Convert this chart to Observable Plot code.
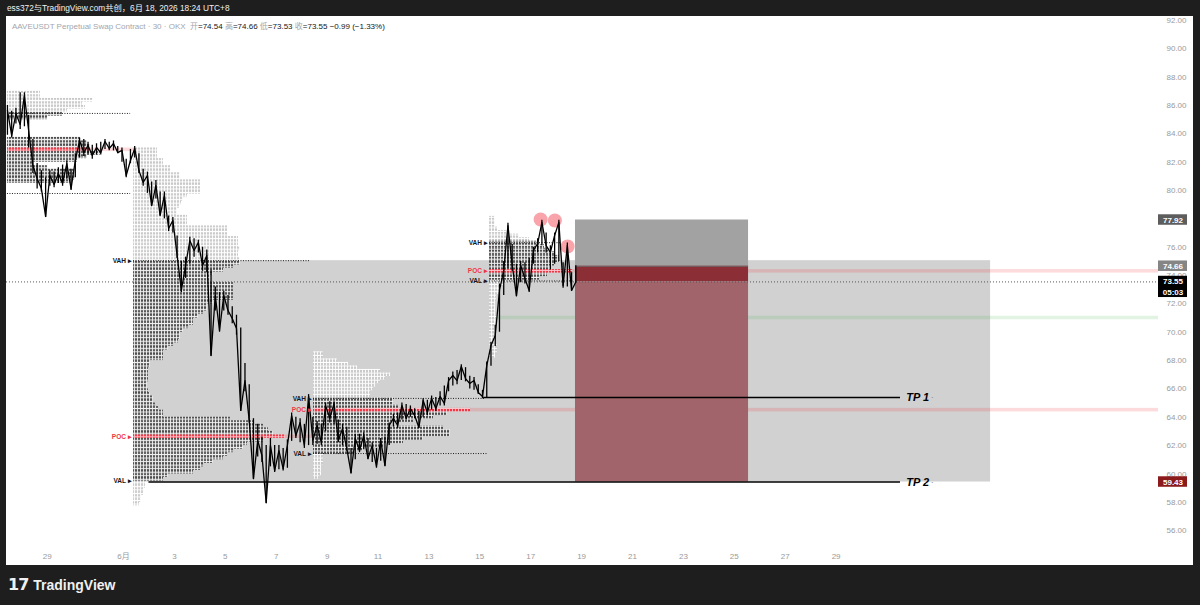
<!DOCTYPE html>
<html><head><meta charset="utf-8">
<script src="https://cdn.jsdelivr.net/npm/d3@7"></script>
<script src="https://cdn.jsdelivr.net/npm/@observablehq/plot@0.6"></script>
<style>
body{margin:0;background:#1e1e1e;width:1200px;height:605px;overflow:hidden;position:relative;font-family:"Liberation Sans","Noto Sans CJK SC",sans-serif}
#hdr{position:absolute;left:7px;top:2px;color:#f2f2f2;font-size:8.3px;line-height:13px;font-weight:normal;font-family:"Liberation Sans","Noto Sans CJK SC",sans-serif}
#chart{position:absolute;left:6px;top:16px;width:1187px;height:549px;background:#fff;overflow:hidden}
#legend{position:absolute;left:6px;top:5px;font-size:8px;line-height:12px;color:#131722;white-space:pre;font-family:"Liberation Sans","Noto Sans CJK SC",sans-serif}
#legend .g{color:#a3a6ae}
#logo{position:absolute;left:8px;top:575px;color:#f0f0f0;font-size:14px;font-weight:bold;line-height:20px;font-family:"Liberation Sans",sans-serif}
#logo .ic{font-weight:900;letter-spacing:-1px;margin-right:5px;font-size:16px;font-family:"DejaVu Sans",sans-serif}
svg{position:absolute;left:0;top:0}
</style></head><body>
<div id="hdr">ess372与TradingView.com共创，6月 18, 2026 18:24 UTC+8</div>
<div id="chart"><div id="legend"><span class="g">AAVEUSDT Perpetual Swap Contract · 30 · OKX  开</span>=74.54 <span class="g">高</span>=74.66 <span class="g">低</span>=73.53 <span class="g">收</span>=73.55 −0.99 (−1.33%)</div></div>
<div id="logo"><span class="ic">17</span>TradingView</div>
<script>
// ---------- time axis (day numbers, June 1 = 1, May 29 = -2) ----------
const tickDays = [-2, 1, 3, 5, 7, 9, 11, 13, 15, 17, 19, 21, 23, 25, 27, 29];
const tickLabels = ["29", "6月", "3", "5", "7", "9", "11", "13", "15", "17", "19", "21", "23", "25", "27", "29"];
const priceTicks = [56, 58, 60, 62, 64, 66, 68, 70, 72, 74, 76, 80, 82, 84, 86, 88, 90, 92];

// ---------- price series (4-hour samples) ----------
const priceStartDay = -3.56;
const priceStepDays = 1 / 6;
const closes = [
  85.65, 83.88, 85.43, 84.66, 86.7, 84.24, 81.77, 80.85, 80.14, 78.17,
  81.06, 80.43, 81.2, 80.5, 81.9, 80.14, 82.12, 83.53, 82.68, 83.18,
  82.47, 83.04, 82.68, 83.46, 82.97, 83.32, 82.68, 82.83, 81.06, 82.12,
  82.97, 81.41, 80.57, 81.06, 78.94, 80.36, 78.24, 79.65, 77.32, 77.89,
  75.42, 72.95, 74.71, 76.47, 75.77, 76.33, 74.71, 75.42, 68.36, 72.59,
  70.12, 72.59, 71.53, 70.97, 70.27, 64.48, 66.59, 63.77, 59.68, 62.36,
  61.3, 57.98, 62.01, 60.24, 61.65, 60.38, 62.01, 64.12, 62.71, 63.63,
  62.01, 65.47, 62.36, 63.42, 62.22, 64.83, 63.92, 64.97, 62.36, 63.2,
  61.8, 60.1, 62.5, 61.65, 62.71, 61.1, 62.0, 60.53, 62.36, 60.6,
  63.42, 63.92, 63.42, 64.83, 63.92, 64.62, 64.12, 63.28, 65.18, 64.33,
  65.33, 64.62, 65.47, 64.97, 66.59, 66.95, 66.59, 67.58, 66.73, 66.38,
  66.59, 65.75, 65.47, 67.65, 69.07, 69.77, 72.95, 74.36, 77.53, 74.71,
  72.59, 74.71, 73.79, 72.95, 75.77, 76.26, 77.75, 76.12, 75.63, 76.83,
  77.75, 73.3, 76.12, 72.95, 73.55
];
const highs = [
  86.0, 85.6, 85.8, 86.9, 86.9, 85.3, 83.6, 81.9, 81.4, 80.9,
  81.4, 81.3, 81.6, 81.8, 82.1, 81.5, 82.6, 83.7, 83.6, 83.4,
  83.2, 83.3, 83.4, 83.6, 83.4, 83.5, 83.1, 83.0, 82.2, 82.9,
  83.1, 82.6, 81.5, 81.3, 80.6, 80.7, 79.9, 79.9, 78.2, 78.1,
  76.8, 75.0, 75.3, 76.7, 76.6, 76.5, 76.0, 75.8, 74.4, 73.2,
  72.8, 72.9, 72.6, 71.8, 71.2, 70.3, 67.8, 66.3, 63.9, 63.5,
  62.6, 62.0, 62.5, 62.0, 62.0, 61.8, 62.4, 64.3, 64.0, 63.9,
  63.5, 65.6, 64.0, 63.7, 63.5, 65.0, 65.1, 65.1, 63.8, 63.5,
  63.3, 61.8, 62.8, 62.8, 62.9, 62.5, 62.2, 61.8, 62.5, 62.6,
  63.6, 64.2, 64.3, 65.0, 64.9, 64.8, 64.6, 64.4, 65.3, 65.2,
  65.5, 65.4, 65.8, 66.2, 66.8, 67.2, 67.3, 67.7, 67.5, 66.9,
  66.8, 66.3, 65.9, 67.9, 69.3, 70.5, 73.4, 75.0, 77.7, 76.2,
  74.8, 75.0, 74.9, 75.2, 76.0, 76.6, 77.9, 77.0, 76.1, 77.0,
  77.9, 74.9, 76.3, 74.2, 74.7
];
const lows = [
  83.9, 83.7, 84.7, 84.3, 84.5, 83.0, 81.2, 80.1, 79.9, 78.1,
  80.3, 80.2, 80.5, 80.3, 80.8, 80.0, 80.9, 82.3, 82.4, 82.5,
  82.2, 82.5, 82.5, 82.9, 82.8, 82.8, 82.6, 82.0, 80.9, 81.9,
  82.3, 81.2, 80.3, 79.8, 78.9, 79.4, 78.2, 78.0, 77.1, 77.0,
  75.2, 72.8, 73.8, 74.8, 75.3, 75.6, 74.3, 74.2, 68.3, 71.5,
  70.0, 71.5, 71.2, 70.6, 69.8, 64.4, 65.8, 63.6, 59.6, 61.2,
  60.8, 57.9, 60.5, 60.1, 60.3, 60.2, 60.4, 62.3, 62.5, 62.2,
  61.8, 62.0, 62.0, 62.1, 62.0, 63.0, 63.6, 63.5, 62.2, 62.0,
  61.6, 60.0, 61.0, 61.5, 61.7, 61.0, 60.8, 60.4, 60.9, 60.5,
  62.0, 63.3, 63.2, 63.8, 63.8, 64.0, 63.9, 63.2, 64.0, 64.1,
  64.5, 64.4, 64.8, 64.8, 65.8, 66.2, 66.3, 66.6, 66.5, 66.0,
  65.9, 65.6, 65.3, 65.4, 67.6, 69.0, 70.0, 72.6, 74.5, 74.3,
  72.5, 73.5, 73.4, 72.8, 74.8, 75.6, 76.1, 75.6, 74.4, 74.8,
  75.0, 73.1, 73.2, 72.9, 73.5
];

// ---------- session volume profiles (bins of 0.25, top row first) ----------
const binSize = 0.25;
const volPerDay = 50.9;
const profAStart = -3.56, profATop = 86.875, profAVah = 85.44, profAVal = 79.79, profAPoc = 82.875;
const profAVolumes = [66,66,172,150,156,120,110,80,0,0,0,0,0,146,160,166,166,186,160,140,52,80,136,136,136,126];
const profBStart = 1.393, profBTop = 82.875, profBVah = 75.05, profBVal = 59.5, profBPoc = 62.625;
const profBVolumes = [
  48,48,48,60, 60,74,74,94, 94,134,134,134, 134,108,100,96, 92,88,88,108, 108,108,188,188, 188,210,210,210, 214,210,210,214,
  214,200,180,160, 154,154,200,200, 200,200,200,160, 148,148,140,130, 120,120,110,100, 94,94,90,80, 70,60,60,60,
  34,34,30,30, 30,30,28,28, 30,34,40,40, 44,50,60,60, 194,240,260,270, 280,304,260,228, 220,200,188,180, 160,140,134,120, 70,60,
  24,24,20,20,16,16,12
];
const profCStart = 8.466, profCTop = 68.5, profCVah = 65.33, profCVal = 61.44, profCPoc = 64.5;
const profCVolumes = [20,20,48,70,88,134,154,144,134,124,120,114,114, 160,160,170,314,268,240,200,154,260,274,274,220,180,140,100,80, 20,20,20,16,16,16,12];
const profDStart = 15.381, profDTop = 78.05, profDVah = 76.32, profDVal = 73.62, profDPoc = 74.3;
const profDVolumes = [12,12,12,16,40,60,80, 100,110,120,130,140,140,130,120,166,116,100, 34,30,24,20,14,14,12,12,12,12,16,12,12,12,12,12,12,12,16,16,16,12];

// ---------- levels / drawings ----------
const lastPrice = 73.55, lastCountdown = "05:03";
const entryPrice = 74.66, stopPrice = 77.92, targetPrice = 59.43;
const positionStart = 18.76, positionEnd = 25.56;
const rangeBoxEnd = 35.07;
const tp1Price = 65.39, tp1Start = 15.15;
const tp2Price = 59.43, tp2Start = 2.0;
const tpEnd = 31.53;
const greenLevel = 71.04;
const markTimes = [17.39, 17.95, 18.45];
const markPrices = [77.96, 77.89, 76.05];

const xMin = -3.597, xMax = 41.668;

function profileRows(start, top, vols, vah, val, poc) {
  return vols.map((v, i) => {
    const c = top - i * binSize;
    const kind = Math.abs(c - poc) < 1e-6 ? "poc" : (c <= vah && c >= val ? "va" : "out");
    return {x1: start, x2: start + v / volPerDay, y1: c - binSize / 2, y2: c + binSize / 2, kind};
  }).filter(d => d.x2 > d.x1);
}
const rows = [
  ...profileRows(profAStart, profATop, profAVolumes, profAVah, profAVal, profAPoc),
  ...profileRows(profBStart, profBTop, profBVolumes, profBVah, profBVal, profBPoc),
  ...profileRows(profCStart, profCTop, profCVolumes, profCVah, profCVal, profCPoc),
  ...profileRows(profDStart, profDTop, profDVolumes, profDVah, profDVal, profDPoc)
];
const pocEnd = (start, top, vols, poc) => start + vols[Math.round((top - poc) / binSize)] / volPerDay;
const pinkExt = [
  {x1: pocEnd(profAStart, profATop, profAVolumes, profAPoc), x2: profBStart, y: profAPoc},
  {x1: pocEnd(profBStart, profBTop, profBVolumes, profBPoc), x2: profCStart, y: profBPoc},
  {x1: pocEnd(profCStart, profCTop, profCVolumes, profCPoc), x2: xMax, y: profCPoc},
  {x1: pocEnd(profDStart, profDTop, profDVolumes, profDPoc), x2: xMax, y: profDPoc}
];
const dotted = [
  {x1: profAStart, x2: 1.28, y: profAVah}, {x1: profAStart, x2: 1.28, y: profAVal},
  {x1: profBStart, x2: 8.35, y: profBVah},
  {x1: profCStart, x2: 15.2, y: profCVah}, {x1: profCStart, x2: 15.3, y: profCVal},
  {x1: profDStart, x2: 18.2, y: profDVah}, {x1: profDStart, x2: 18.7, y: profDVal}
];
const labels = [];
[[profBStart, profBVah, profBPoc, profBVal], [profCStart, profCVah, profCPoc, profCVal], [profDStart, profDVah, profDPoc, profDVal]]
  .forEach(([s, vah, poc, val]) => {
    labels.push({x: s - 0.07, y: vah, t: "VAH ▸", k: "va"}, {x: s - 0.07, y: poc, t: "POC ▸", k: "poc"}, {x: s - 0.07, y: val, t: "VAL ▸", k: "va"});
  });
const series = closes.map((p, i) => ({t: priceStartDay + i * priceStepDays, p, h: highs[i], l: lows[i]}));
const marks = markTimes.map((t, i) => ({t, p: markPrices[i]}));
const labelOf = new Map(tickDays.map((d, i) => [d, tickLabels[i]]));

const bx1 = xMax + 0.0, bx2 = xMax + 1.14, bxc = xMax + 0.57;
const badges = [
  {p: stopPrice, fill: "#5d5d5d"}, {p: entryPrice, fill: "#858585"}, {p: targetPrice, fill: "#8b1a1a"}
];

const chart = Plot.plot({
  width: 1187, height: 549,
  marginLeft: 0, marginRight: 35, marginTop: 0, marginBottom: 25,
  x: {domain: [xMin, xMax]},
  y: {domain: [55.303, 92.282]},
  style: {background: "transparent", fontFamily: "Liberation Sans, Noto Sans CJK SC, sans-serif", overflow: "visible"},
  marks: [
    Plot.rect([{}], {x1: profBStart, x2: rangeBoxEnd, y1: targetPrice, y2: profBVah, fill: "#d1d1d1"}),
    Plot.ruleY([greenLevel], {x1: profDStart, x2: xMax, stroke: "#4caf50", strokeOpacity: 0.16, strokeWidth: 3.5}),
    Plot.rect(pinkExt, {x1: "x1", x2: "x2", y1: d => d.y - binSize / 2, y2: d => d.y + binSize / 2, fill: "#f23645", fillOpacity: 0.18}),
    Plot.rect([{}], {x1: positionStart, x2: positionEnd, y1: entryPrice, y2: stopPrice, fill: "#a2a2a2"}),
    Plot.rect([{}], {x1: positionStart, x2: positionEnd, y1: lastPrice, y2: entryPrice, fill: "#8c2e36"}),
    Plot.rect([{}], {x1: positionStart, x2: positionEnd, y1: targetPrice, y2: lastPrice, fill: "#a0646a"}),
    Plot.ruleY([entryPrice], {x1: positionStart, x2: positionEnd, stroke: "#6e6e6e", strokeWidth: 1}),
    Plot.rect(rows.filter(d => d.kind === "out"), {x1: "x1", x2: "x2", y1: "y1", y2: "y2", fill: "url(#pOut)"}),
    Plot.rect(rows.filter(d => d.kind === "va"), {x1: "x1", x2: "x2", y1: "y1", y2: "y2", fill: "url(#pVa)"}),
    Plot.rect(rows.filter(d => d.kind === "poc"), {x1: "x1", x2: "x2", y1: "y1", y2: "y2", fill: "url(#pPoc)"}),
    Plot.ruleY(dotted, {x1: "x1", x2: "x2", y: "y", stroke: "#222", strokeWidth: 1, strokeDasharray: "1,1.5"}),
    Plot.ruleY([lastPrice], {x1: xMin, x2: xMax, stroke: "#555", strokeWidth: 1, strokeDasharray: "1,2"}),
    Plot.ruleY([tp1Price], {x1: tp1Start, x2: tpEnd, stroke: "#000", strokeWidth: 1.4}),
    Plot.ruleY([tp2Price], {x1: tp2Start, x2: tpEnd, stroke: "#000", strokeWidth: 1.4}),
    Plot.text([{t: "TP 1", y: tp1Price}, {t: "TP 2", y: tp2Price}], {x: tpEnd + 0.23, y: "y", text: "t", textAnchor: "start", fontSize: 11, fontWeight: "bold", fontStyle: "italic", fill: "#000"}),
    Plot.text([tp1Price, tp2Price], {x: tpEnd + 1.25, y: d => d, text: () => "·", fill: "#888", fontSize: 9}),
    Plot.dot(marks, {x: "t", y: "p", r: 7, fill: "#f23645", fillOpacity: 0.45, stroke: "none"}),
    Plot.ruleX(series, {x: "t", y1: "l", y2: "h", stroke: "#000", strokeWidth: 1.3}),
    Plot.line(series, {x: "t", y: "p", stroke: "#000", strokeWidth: 1.3, curve: "linear"}),
    Plot.text(labels.filter(d => d.k === "va"), {x: "x", y: "y", text: "t", textAnchor: "end", fontSize: 6.5, fontWeight: "bold", fill: "#131722"}),
    Plot.text(labels.filter(d => d.k === "poc"), {x: "x", y: "y", text: "t", textAnchor: "end", fontSize: 6.5, fontWeight: "bold", fill: "#f23645"}),
    Plot.axisY({anchor: "right", ticks: priceTicks, tickFormat: d => d.toFixed(2), tickSize: 0, tickPadding: 8, fontSize: 8, fill: "#9a9a9a", label: null}),
    Plot.axisX({ticks: tickDays, tickFormat: d => labelOf.get(d), tickSize: 0, tickPadding: 13, fontSize: 8, fill: "#9a9a9a", label: null}),
    Plot.rect(badges, {x1: bx1, x2: bx2, y1: d => d.p - 0.37, y2: d => d.p + 0.37, fill: d => d.fill}),
    Plot.text(badges, {x: bxc, y: "p", text: d => d.p.toFixed(2), fill: "#fff", fontSize: 8, fontWeight: "bold"}),
    Plot.rect([{}], {x1: bx1, x2: bx2, y1: 72.45, y2: 73.95, fill: "#000"}),
    Plot.text([{t: lastPrice.toFixed(2), y: lastPrice}, {t: lastCountdown, y: 72.84}], {x: bxc, y: "y", text: "t", fill: "#fff", fontSize: 8, fontWeight: "bold"})
  ]
});
const ns = "http://www.w3.org/2000/svg";
const defs = document.createElementNS(ns, "defs");
defs.innerHTML = `
<pattern id="pOut" patternUnits="userSpaceOnUse" width="3" height="3.54"><rect width="3" height="3.54" fill="#fff"/><rect width="2.1" height="2.5" fill="#c9c9c9"/></pattern>
<pattern id="pVa" patternUnits="userSpaceOnUse" width="3" height="3.54"><rect width="3" height="3.54" fill="#f2f2f2"/><rect width="2.1" height="2.5" fill="#4f4f4f"/></pattern>
<pattern id="pPoc" patternUnits="userSpaceOnUse" width="3" height="3.54"><rect width="3" height="3.54" fill="#fbc4c9"/><rect width="2.1" height="2.6" fill="#f23645"/></pattern>`;
chart.insertBefore(defs, chart.firstChild);
document.getElementById("chart").appendChild(chart);
</script>
</body></html>
